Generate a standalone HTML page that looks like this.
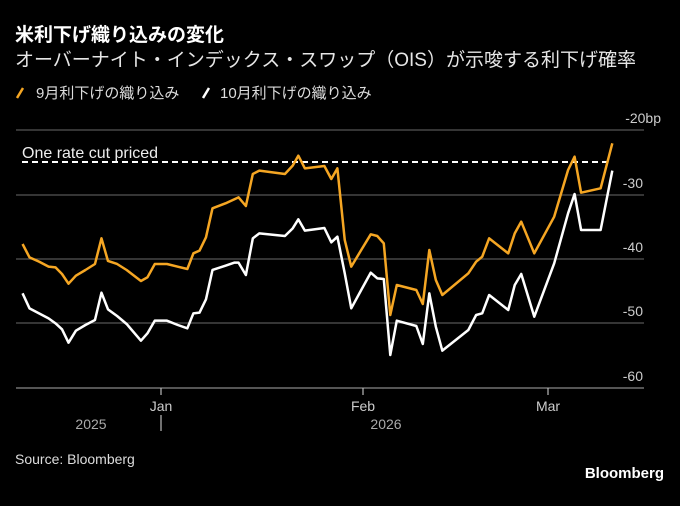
<!DOCTYPE html>
<html><head><meta charset="utf-8"><style>
body{margin:0;background:#000;width:680px;height:501px;overflow:hidden;font-family:"Liberation Sans","Noto Sans CJK JP",sans-serif;}
svg text{font-family:"Liberation Sans","Noto Sans CJK JP",sans-serif;}
</style></head><body>
<svg width="680" height="501" viewBox="0 0 680 501" xmlns="http://www.w3.org/2000/svg">
<rect width="680" height="501" fill="#000"/>
<text x="15" y="41" font-size="19" font-weight="bold" fill="#fff">米利下げ織り込みの変化</text>
<text x="15" y="66" font-size="19" fill="#e6e6e6">オーバーナイト・インデックス・スワップ（OIS）が示唆する利下げ確率</text>
<line x1="17" y1="98" x2="23" y2="88" stroke="#f5a623" stroke-width="2.5"/>
<text x="36" y="98" font-size="15" fill="#ddd">9月利下げの織り込み</text>
<line x1="203" y1="98" x2="209" y2="88" stroke="#fff" stroke-width="2.5"/>
<text x="220" y="98" font-size="15" fill="#ddd">10月利下げの織り込み</text>
<g stroke="#555" stroke-width="1.3">
<line x1="16" y1="130" x2="644" y2="130"/><line x1="16" y1="195" x2="644" y2="195"/><line x1="16" y1="259" x2="644" y2="259"/><line x1="16" y1="323" x2="644" y2="323"/>
</g>
<line x1="16" y1="388" x2="644" y2="388" stroke="#888" stroke-width="1.3"/>
<g stroke="#bbb" stroke-width="1.2"><line x1="161" y1="388" x2="161" y2="395"/><line x1="363" y1="388" x2="363" y2="395"/><line x1="548" y1="388" x2="548" y2="395"/><line x1="161" y1="415" x2="161" y2="431"/></g>
<g font-size="14" fill="#ccc">
<text x="661" y="123" text-anchor="end">-20bp</text>
<text x="643" y="188" text-anchor="end">-30</text>
<text x="643" y="252" text-anchor="end">-40</text>
<text x="643" y="316" text-anchor="end">-50</text>
<text x="643" y="381" text-anchor="end">-60</text>
<text x="161" y="411" text-anchor="middle">Jan</text>
<text x="363" y="411" text-anchor="middle">Feb</text>
<text x="548" y="411" text-anchor="middle">Mar</text>
<text x="91" y="429" text-anchor="middle" fill="#aaa">2025</text>
<text x="386" y="429" text-anchor="middle" fill="#aaa">2026</text>
<text x="15" y="464" fill="#ddd">Source: Bloomberg</text>
</g>
<text x="664" y="478" text-anchor="end" font-size="15" font-weight="bold" fill="#fff">Bloomberg</text>
<text x="22" y="158" font-size="16" fill="#eee">One rate cut priced</text>
<line x1="22" y1="162" x2="611" y2="162" stroke="#fff" stroke-width="2" stroke-dasharray="6,4"/>
<g transform="translate(0,100) scale(0.43365,0.33333)" fill="none" stroke-linejoin="round">
<polyline vector-effect="non-scaling-stroke" stroke="#f5a623" stroke-width="2.5" points="52,432 68,472 90,485 112,500 128,502 143,522 158,551 175,527 197,510 219,492 234,415 249,483 270,492 292,510 325,543 340,532 357,492 385,492 410,500 432,507 446,460 460,452 475,412 490,325 520,310 550,292 567,318 583,222 598,212 657,222 675,197 688,167 703,205 748,198 764,237 778,205 795,420 810,500 833,450 855,403 870,408 885,430 900,645 915,555 960,570 975,612 990,450 1005,540 1020,585 1080,520 1098,485 1112,470 1128,415 1172,460 1187,400 1202,365 1232,460 1278,350 1310,210 1325,170 1340,278 1385,265 1412,130"/>
<polyline vector-effect="non-scaling-stroke" stroke="#fff" stroke-width="2.5" points="52,580 68,625 90,640 112,655 128,670 143,688 158,728 175,692 197,675 219,660 234,578 249,628 270,648 292,672 325,722 340,700 357,662 385,662 410,675 432,685 446,640 460,638 475,598 490,510 520,497 540,488 550,488 567,525 583,415 598,400 657,408 675,385 688,358 703,392 748,384 764,427 778,410 795,520 810,625 833,570 855,518 870,535 885,537 900,765 915,662 960,678 975,732 990,580 1005,680 1020,752 1080,690 1098,645 1112,640 1128,585 1172,630 1187,555 1202,522 1232,650 1278,490 1310,340 1325,282 1340,390 1385,390 1412,212"/>
</g>
</svg>
</body></html>
